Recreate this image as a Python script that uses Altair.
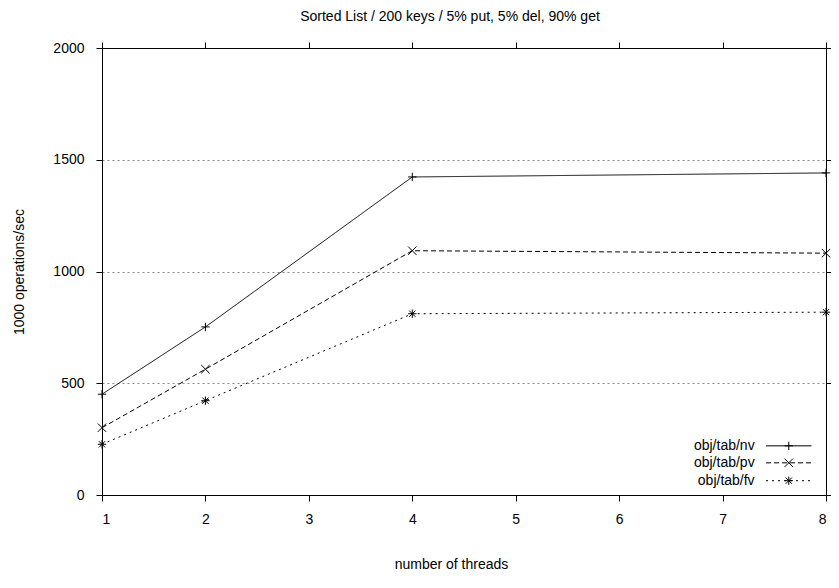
import altair as alt
import pandas as pd

# ---- data ----
threads = [1, 2, 4, 8]
nv = [451, 752, 1423, 1441]
pv = [301, 563, 1093, 1082]
fv = [227, 422, 811, 818]
series = ["obj/tab/nv", "obj/tab/pv", "obj/tab/fv"]
x_ticks = [1, 2, 3, 4, 5, 6, 7, 8]
y_ticks = [0, 500, 1000, 1500, 2000]

rows = []
for name, vals in zip(series, [nv, pv, fv]):
    for t, v in zip(threads, vals):
        rows.append({"threads": t, "ops": v, "series": name})
df = pd.DataFrame(rows)

# ---- styles ----
FS = 14
PLUS = "M-1,0L1,0M0,-1L0,1"
XS = "M-1,-1L1,1M-1,1L1,-1"
STAR = "M-1,0L1,0M0,-1L0,1M-0.75,-0.75L0.75,0.75M-0.75,0.75L0.75,-0.75"
dash_scale = alt.Scale(domain=series, range=[[1, 0], [5, 3], [2, 4]])
shape_scale = alt.Scale(domain=series, range=[PLUS, XS, STAR])

# legend layout (inside plot, bottom right), in data units
leg_text_x, leg_x1, leg_x2, leg_xm = 7.31, 7.42, 7.86, 7.64
leg_y = [220, 144, 64]
leg = pd.DataFrame({"series": series, "y": leg_y})
leg["tx"] = leg_text_x
leg["x1"] = leg_x1
leg["x2"] = leg_x2
leg["xm"] = leg_xm

xscale = alt.Scale(domain=[1, 8], nice=False, zero=False)
yscale = alt.Scale(domain=[0, 2000], nice=False)

axis_common = dict(
    tickSize=6, tickColor="black", domainColor="black", labelColor="black",
    labelFontSize=FS, titleFontSize=FS, titleFontWeight="normal", titleColor="black",
)

x_bottom = alt.Axis(values=x_ticks, orient="bottom", grid=False, title="number of threads",
                    format="d", labelPadding=11, titlePadding=31, titleX=349, **axis_common)
y_left = alt.Axis(values=y_ticks, orient="left", grid=True, gridDash=[2, 3], gridColor="#888",
                  gridWidth=1, title="1000 operations/sec", format="d", labelPadding=12,
                  titlePadding=26, **axis_common)
x_top = alt.Axis(values=x_ticks, orient="top", labels=False, title=None, grid=False, **axis_common)
y_right = alt.Axis(values=y_ticks, orient="right", labels=False, title=None, grid=False, **axis_common)

lines = alt.Chart(df).mark_line(color="black", strokeWidth=1).encode(
    x=alt.X("threads:Q", scale=xscale, axis=x_bottom),
    y=alt.Y("ops:Q", scale=yscale, axis=y_left),
    strokeDash=alt.StrokeDash("series:N", scale=dash_scale, legend=None),
    detail="series:N",
)

frame = alt.Chart(df).mark_point(opacity=0).encode(
    x=alt.X("threads:Q", scale=xscale, axis=x_top),
    y=alt.Y("ops:Q", scale=yscale, axis=y_right),
)

points = alt.Chart(df).mark_point(filled=False, color="black", strokeWidth=1, size=70, opacity=1).encode(
    x=alt.X("threads:Q", scale=xscale, axis=None),
    y=alt.Y("ops:Q", scale=yscale, axis=None),
    shape=alt.Shape("series:N", scale=shape_scale, legend=None),
)

leg_text = alt.Chart(leg).mark_text(align="right", baseline="middle", fontSize=FS, color="black").encode(
    x=alt.X("tx:Q", scale=xscale, axis=None),
    y=alt.Y("y:Q", scale=yscale, axis=None),
    text="series:N",
)
leg_lines = alt.Chart(leg).mark_rule(color="black", strokeWidth=1).encode(
    x=alt.X("x1:Q", scale=xscale, axis=None),
    x2="x2:Q",
    y=alt.Y("y:Q", scale=yscale, axis=None),
    strokeDash=alt.StrokeDash("series:N", scale=dash_scale, legend=None),
)
leg_pts = alt.Chart(leg).mark_point(filled=False, color="black", strokeWidth=1, size=70, opacity=1).encode(
    x=alt.X("xm:Q", scale=xscale, axis=None),
    y=alt.Y("y:Q", scale=yscale, axis=None),
    shape=alt.Shape("series:N", scale=shape_scale, legend=None),
)

chart = alt.layer(lines, frame, points, leg_lines, leg_pts, leg_text).resolve_axis(
    x="independent", y="independent"
).properties(
    width=724,
    height=447,
    autosize=alt.AutoSizeParams(type="none"),
    padding={"left": 94, "top": 40, "right": 5, "bottom": 78},
    title=alt.TitleParams("Sorted List / 200 keys / 5% put, 5% del, 90% get", fontSize=FS,
                          fontWeight="normal", anchor="middle", frame="group", offset=17,
                          color="black", dx=-14),
).configure(font="Liberation Sans").configure_view(stroke=None)

chart.save("out.html", embed_options={"renderer": "svg", "actions": False})
